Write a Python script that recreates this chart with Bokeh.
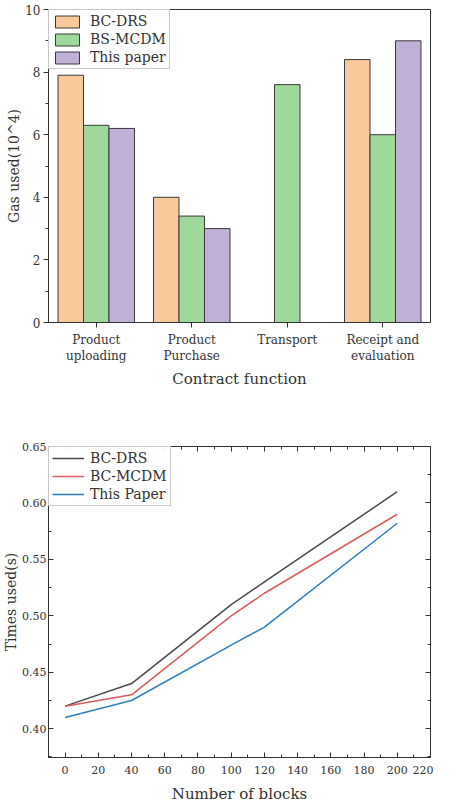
from bokeh.plotting import figure
from bokeh.layouts import column
from bokeh.models import (ColumnDataSource, FactorRange, Range1d, LinearAxis, Legend,
                          LegendItem, SingleIntervalTicker, NumeralTickFormatter,
                          CustomJSTickFormatter)
from bokeh.transform import dodge
from bokeh.embed import file_html
from bokeh.resources import INLINE

# ---------------- data ----------------
categories = ["Product\nuploading", "Product\nPurchase", "Transport", "Receipt and\nevaluation"]
gas_bc_drs = [7.9, 4.0, None, 8.4]
gas_bs_mcdm = [6.3, 3.4, 7.6, 6.0]
gas_this_paper = [6.2, 3.0, None, 9.0]
bar_series = ["BC-DRS", "BS-MCDM", "This paper"]

blocks = [0, 40, 100, 120, 200]
time_bc_drs = [0.42, 0.44, 0.51, 0.53, 0.61]
time_bc_mcdm = [0.42, 0.43, 0.50, 0.52, 0.59]
time_this_paper = [0.41, 0.425, 0.474, 0.49, 0.582]
line_series = ["BC-DRS", "BC-MCDM", "This Paper"]

FONT = "DejaVu Serif"
TXT = "#333333"
AX = "#333333"

def nan(v):
    return float("nan") if v is None else v

def style_axis(ax, tick_size="12px", label_size="15px"):
    ax.axis_line_color = AX
    ax.major_tick_line_color = AX
    ax.minor_tick_line_color = AX
    ax.major_label_text_font = FONT
    ax.major_label_text_color = TXT
    ax.major_label_text_font_size = tick_size
    ax.axis_label_text_font = FONT
    ax.axis_label_text_font_style = "normal"
    ax.axis_label_text_color = TXT
    ax.axis_label_text_font_size = label_size

# ---------------- top chart ----------------
src = ColumnDataSource(dict(cat=categories,
                            a=[nan(v) for v in gas_bc_drs],
                            b=[nan(v) for v in gas_bs_mcdm],
                            c=[nan(v) for v in gas_this_paper]))

p1 = figure(x_range=FactorRange(*categories), y_range=Range1d(0, 10),
            width=433, height=391, output_backend="svg", toolbar_location=None,
            min_border_left=42, min_border_right=3, min_border_top=9, min_border_bottom=50)

bw = 0.267
colors = ["#F9C89B", "#9FD89B", "#BFB0D8"]
rs = []
for i, (col, color) in enumerate(zip(["a", "b", "c"], colors)):
    r = p1.vbar(x=dodge("cat", (i - 1) * bw, range=p1.x_range), top=col, width=bw, bottom=0,
                source=src, fill_color=color, line_color="#3a3a3a", line_width=1)
    rs.append(r)

p1.xgrid.grid_line_color = None
p1.ygrid.grid_line_color = None
p1.outline_line_color = AX
p1.outline_line_width = 1

xa1 = p1.below[0]
ya1 = p1.left[0]
ya1.ticker = SingleIntervalTicker(interval=2, num_minor_ticks=2)
ya1.major_tick_in = 0
ya1.major_tick_out = 5
ya1.minor_tick_in = 0
ya1.minor_tick_out = 3
ya1.axis_label = "Gas used(10^4)"
xa1.axis_label = "Contract function"
xa1.major_tick_in = 0
xa1.major_tick_out = 5
style_axis(xa1)
style_axis(ya1, label_size="14px")
xa1.major_label_standoff = 5
xa1.axis_label_standoff = 4
ya1.major_label_standoff = 3
ya1.axis_label_standoff = 0

leg1 = Legend(items=[LegendItem(label=s, renderers=[r]) for s, r in zip(bar_series, rs)],
              location="top_left", margin=0, padding=3, spacing=2,
              glyph_width=30, glyph_height=15, label_height=16,
              label_text_font=FONT, label_text_font_size="14px", label_text_color=TXT,
              border_line_color="#999999", border_line_width=1, label_standoff=8)
p1.add_layout(leg1)

# ---------------- bottom chart ----------------
p2 = figure(x_range=Range1d(-10, 220), y_range=Range1d(0.3745, 0.65),
            width=433, height=414, output_backend="svg", toolbar_location=None,
            min_border_left=41, min_border_right=3, min_border_top=55, min_border_bottom=44)

line_colors = ["#4a4a4a", "#DA5B5B", "#2E7EC2"]
lrs = []
for ys, c in zip([time_bc_drs, time_bc_mcdm, time_this_paper], line_colors):
    lrs.append(p2.line(blocks, ys, line_color=c, line_width=1.5))

p2.xgrid.grid_line_color = None
p2.ygrid.grid_line_color = None
p2.outline_line_color = AX
p2.outline_line_width = 1

xt = SingleIntervalTicker(interval=20, num_minor_ticks=2)
yt = SingleIntervalTicker(interval=0.05, num_minor_ticks=2)
xa2 = p2.below[0]
ya2 = p2.left[0]
xa2.ticker = xt
ya2.ticker = yt
ya2.formatter = NumeralTickFormatter(format="0.00")
xa2.axis_label = "Number of blocks"
ya2.axis_label = "Times used(s)"
blank = CustomJSTickFormatter(code="return ''")
ra2 = LinearAxis(ticker=yt, formatter=blank, major_label_standoff=0)
ta2 = LinearAxis(ticker=xt, formatter=blank, major_label_standoff=0)
p2.add_layout(ra2, "right")
p2.add_layout(ta2, "above")

for ax in (xa2, ya2, ra2, ta2):
    ax.major_tick_in = 5
    ax.major_tick_out = 0
    ax.minor_tick_in = 3
    ax.minor_tick_out = 0
    style_axis(ax, tick_size="12px", label_size="15px")
xa2.major_label_text_font_size = "11px"
ya2.major_label_text_font_size = "11px"
ya2.axis_label_text_font_size = "14px"
xa2.major_label_standoff = 8
xa2.axis_label_standoff = 8
ya2.major_label_standoff = 2
ya2.axis_label_standoff = 0

leg2 = Legend(items=[LegendItem(label=s, renderers=[r]) for s, r in zip(line_series, lrs)],
              location="top_left", margin=0, padding=3, spacing=2,
              glyph_width=32, glyph_height=16, label_height=16,
              label_text_font=FONT, label_text_font_size="14px", label_text_color=TXT,
              border_line_color="#999999", border_line_width=1, label_standoff=6)
p2.add_layout(leg2)

page = column(p1, p2, spacing=0)
open("out.html", "w").write(file_html(page, INLINE))
